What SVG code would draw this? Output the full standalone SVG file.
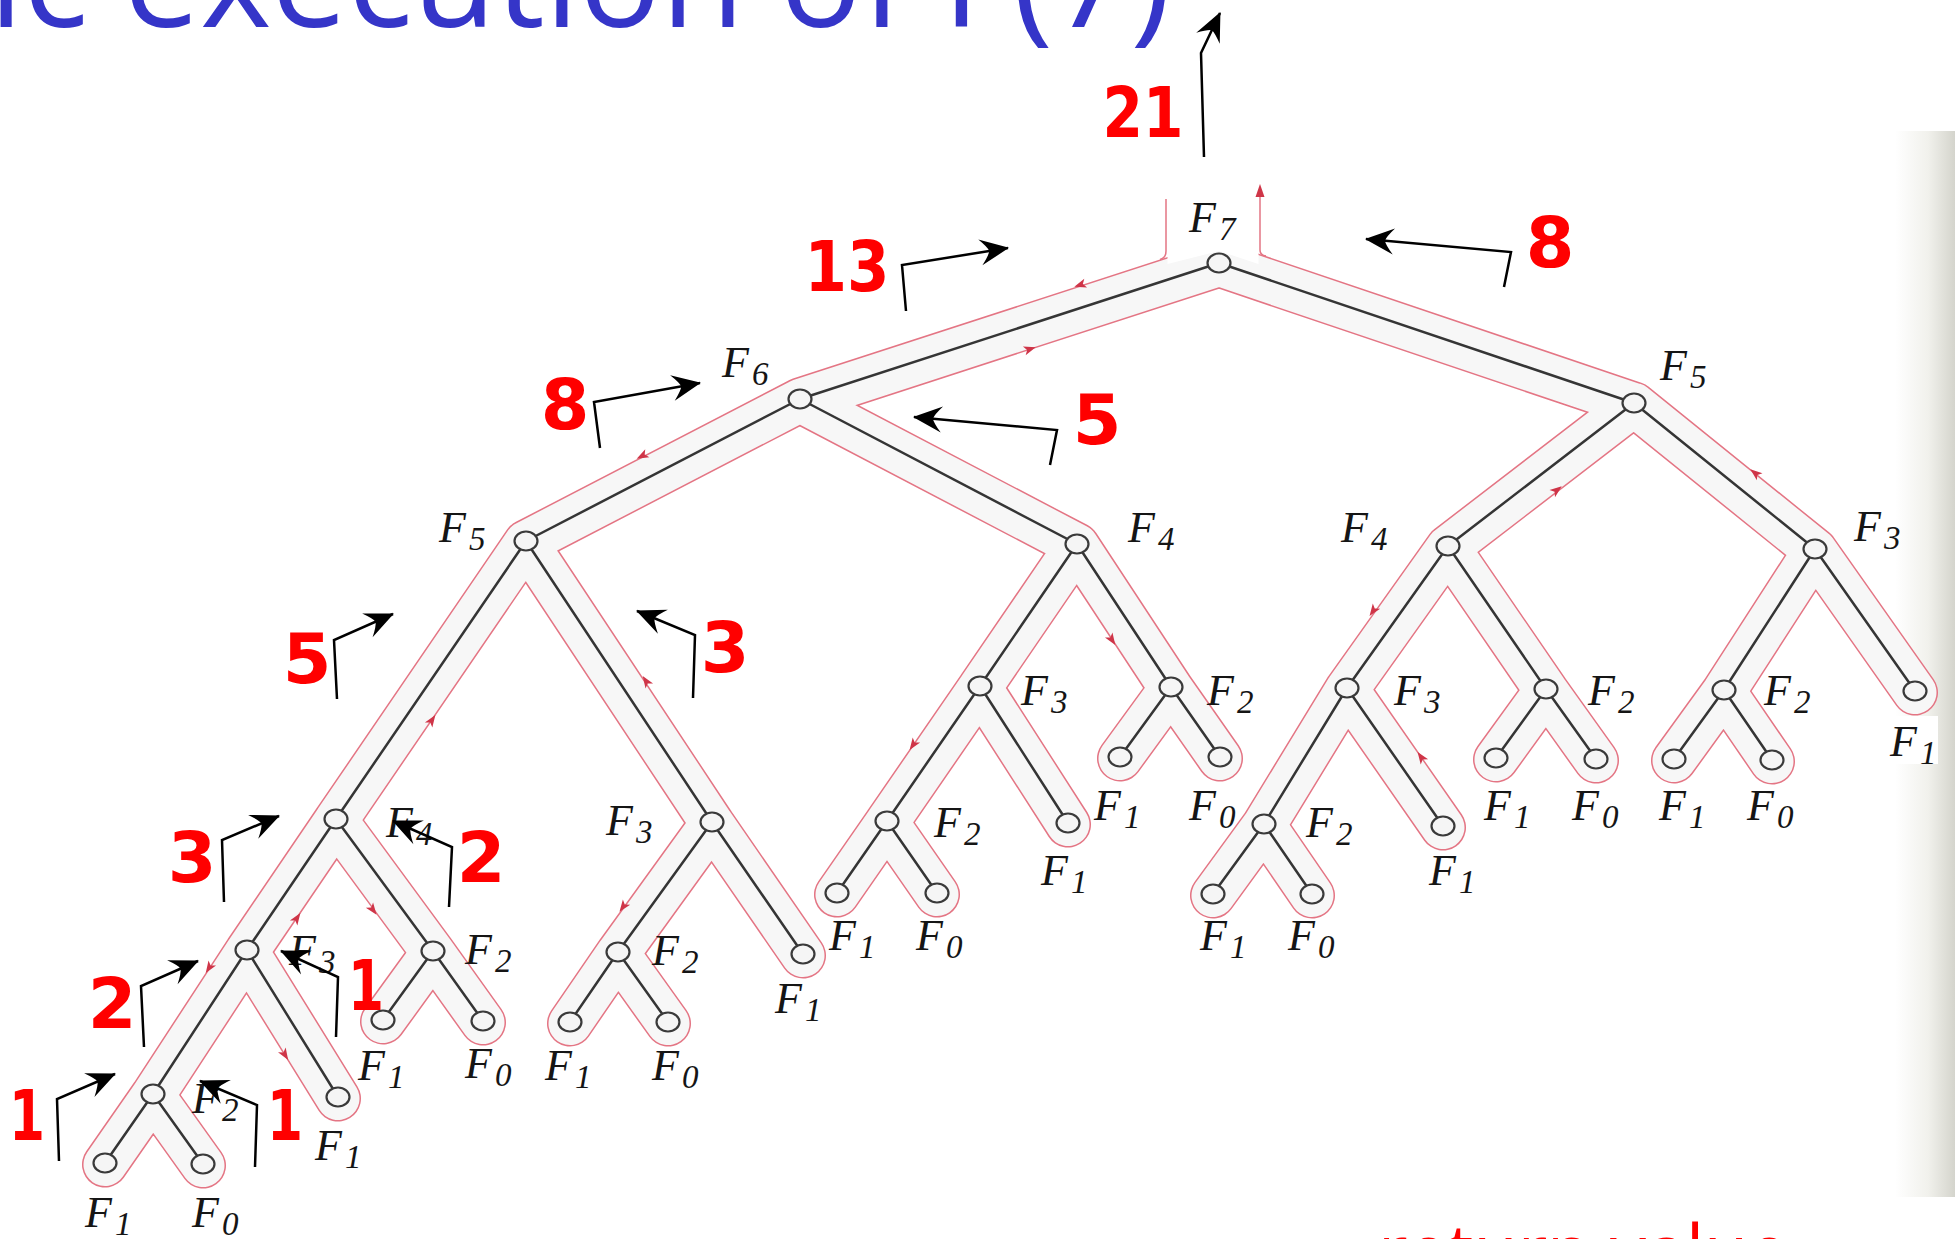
<svg xmlns="http://www.w3.org/2000/svg" xmlns:xlink="http://www.w3.org/1999/xlink" width="1955" height="1239" viewBox="0 0 1955 1239">
<defs>
<style>
.title{font-family:"Open Sans","DejaVu Sans",sans-serif;font-size:136px;fill:#3535c8}
.bottom{font-family:"Open Sans","DejaVu Sans",sans-serif;font-size:72px;fill:#ff0000}
.tubeRed{fill:none;stroke:#e47584;stroke-width:46;stroke-linecap:round;stroke-linejoin:round}
.tubeFill{fill:none;stroke:#f7f7f7;stroke-width:43;stroke-linecap:round;stroke-linejoin:round}
.redline{fill:none;stroke:#e47584;stroke-width:1.5}
.edge{stroke:#353535;stroke-width:2.5;stroke-linecap:round}
.node{fill:#f5f5f5;stroke:#3a3a3a;stroke-width:2.2}
.lbl{font-family:"Liberation Serif","Times New Roman",serif;font-style:italic;font-size:44px;fill:#151515}
.sub{font-size:33px}
.num{font-family:"DejaVu Sans","Liberation Sans",sans-serif;font-weight:bold;font-size:70px;fill:#ff0000;text-anchor:middle}
.arr{fill:none;stroke:#000;stroke-width:2.5;marker-end:url(#ah)}
.ra{fill:#cf3548}
</style>
<marker id="ah" viewBox="-30 -15 32 30" markerWidth="32" markerHeight="30" refX="0" refY="0" orient="auto" markerUnits="userSpaceOnUse">
<path d="M1,0 L-28,-13 Q-20,-4 -19,0 Q-20,4 -28,13 Z" fill="#000"/>
</marker>
<path id="ra" d="M6,0 L-6,-4.5 L-3,0 L-6,4.5 Z"/>
<path id="tree" d="M1219,263 L800,399 M1219,263 L1634,403 M800,399 L526,541 M800,399 L1077,544 M526,541 L336,819 M526,541 L712,822 M336,819 L247,950 M336,819 L433,951 M247,950 L153,1094 M247,950 L338,1097 M153,1094 L105,1163 M153,1094 L203,1164 M433,951 L383,1020 M433,951 L483,1021 M712,822 L618,952 M712,822 L803,954 M618,952 L570,1022 M618,952 L668,1022 M1077,544 L980,686 M1077,544 L1171,687 M980,686 L887,821 M980,686 L1068,823 M887,821 L837,893 M887,821 L937,893 M1171,687 L1120,757 M1171,687 L1220,757 M1634,403 L1448,546 M1634,403 L1815,549 M1448,546 L1347,688 M1448,546 L1546,689 M1347,688 L1264,824 M1347,688 L1443,826 M1264,824 L1213,894 M1264,824 L1312,894 M1546,689 L1496,758 M1546,689 L1596,759 M1815,549 L1724,690 M1815,549 L1915,691 M1724,690 L1674,759 M1724,690 L1772,760"/>
<linearGradient id="strip" x1="0" y1="0" x2="1" y2="0">
<stop offset="0" stop-color="#ffffff"/>
<stop offset="0.55" stop-color="#f1f1ec"/>
<stop offset="1" stop-color="#d4d4cc"/>
</linearGradient>
</defs>
<rect x="0" y="0" width="1955" height="1239" fill="#ffffff"/>
<rect x="1895" y="131" width="60" height="1066" fill="url(#strip)"/>

<text class="title" x="-11" y="27">ic execution of F(7)</text>
<text class="bottom" x="1378" y="1276">return value</text>

<g id="euler-tour">
<g transform="translate(0,1.5)">
<use xlink:href="#tree" class="tubeRed"/>
<use xlink:href="#tree" class="tubeFill"/>
</g>
<polygon points="1167.5,180 1258.5,180 1258.5,264 1219,251 1167.5,264" fill="#ffffff"/>
<path class="redline" d="M1166,199 V251 Q1166,258 1160,259.5"/>
<path class="redline" d="M1260,192 V250 Q1260,255 1266,256.1"/>
<polygon class="ra" points="1260,184 1255.5,197 1264.5,197"/>
<use xlink:href="#ra" class="ra" transform="translate(1080,285) rotate(162)"/>
<use xlink:href="#ra" class="ra" transform="translate(1030,349) rotate(-18)"/>
<use xlink:href="#ra" class="ra" transform="translate(642,456) rotate(152.6)"/>
<use xlink:href="#ra" class="ra" transform="translate(646,681) rotate(-123.5)"/>
<use xlink:href="#ra" class="ra" transform="translate(432,720) rotate(-55.6)"/>
<use xlink:href="#ra" class="ra" transform="translate(1112,640) rotate(56.7)"/>
<use xlink:href="#ra" class="ra" transform="translate(913,745) rotate(124.6)"/>
<use xlink:href="#ra" class="ra" transform="translate(1373,611) rotate(125.4)"/>
<use xlink:href="#ra" class="ra" transform="translate(1421,757) rotate(-124.8)"/>
<use xlink:href="#ra" class="ra" transform="translate(1557,490) rotate(-37.6)"/>
<use xlink:href="#ra" class="ra" transform="translate(1755,473) rotate(-141.1)"/>
<use xlink:href="#ra" class="ra" transform="translate(297,918) rotate(-55.8)"/>
<use xlink:href="#ra" class="ra" transform="translate(373,910) rotate(53.7)"/>
<use xlink:href="#ra" class="ra" transform="translate(209,968) rotate(123.1)"/>
<use xlink:href="#ra" class="ra" transform="translate(285,1055) rotate(58.2)"/>
<use xlink:href="#ra" class="ra" transform="translate(623,907) rotate(125.9)"/>
</g>

<g id="connectors">
<line class="edge" x1="1219" y1="263" x2="800" y2="399"/>
<line class="edge" x1="1219" y1="263" x2="1634" y2="403"/>
<line class="edge" x1="800" y1="399" x2="526" y2="541"/>
<line class="edge" x1="800" y1="399" x2="1077" y2="544"/>
<line class="edge" x1="526" y1="541" x2="336" y2="819"/>
<line class="edge" x1="526" y1="541" x2="712" y2="822"/>
<line class="edge" x1="336" y1="819" x2="247" y2="950"/>
<line class="edge" x1="336" y1="819" x2="433" y2="951"/>
<line class="edge" x1="247" y1="950" x2="153" y2="1094"/>
<line class="edge" x1="247" y1="950" x2="338" y2="1097"/>
<line class="edge" x1="153" y1="1094" x2="105" y2="1163"/>
<line class="edge" x1="153" y1="1094" x2="203" y2="1164"/>
<line class="edge" x1="433" y1="951" x2="383" y2="1020"/>
<line class="edge" x1="433" y1="951" x2="483" y2="1021"/>
<line class="edge" x1="712" y1="822" x2="618" y2="952"/>
<line class="edge" x1="712" y1="822" x2="803" y2="954"/>
<line class="edge" x1="618" y1="952" x2="570" y2="1022"/>
<line class="edge" x1="618" y1="952" x2="668" y2="1022"/>
<line class="edge" x1="1077" y1="544" x2="980" y2="686"/>
<line class="edge" x1="1077" y1="544" x2="1171" y2="687"/>
<line class="edge" x1="980" y1="686" x2="887" y2="821"/>
<line class="edge" x1="980" y1="686" x2="1068" y2="823"/>
<line class="edge" x1="887" y1="821" x2="837" y2="893"/>
<line class="edge" x1="887" y1="821" x2="937" y2="893"/>
<line class="edge" x1="1171" y1="687" x2="1120" y2="757"/>
<line class="edge" x1="1171" y1="687" x2="1220" y2="757"/>
<line class="edge" x1="1634" y1="403" x2="1448" y2="546"/>
<line class="edge" x1="1634" y1="403" x2="1815" y2="549"/>
<line class="edge" x1="1448" y1="546" x2="1347" y2="688"/>
<line class="edge" x1="1448" y1="546" x2="1546" y2="689"/>
<line class="edge" x1="1347" y1="688" x2="1264" y2="824"/>
<line class="edge" x1="1347" y1="688" x2="1443" y2="826"/>
<line class="edge" x1="1264" y1="824" x2="1213" y2="894"/>
<line class="edge" x1="1264" y1="824" x2="1312" y2="894"/>
<line class="edge" x1="1546" y1="689" x2="1496" y2="758"/>
<line class="edge" x1="1546" y1="689" x2="1596" y2="759"/>
<line class="edge" x1="1815" y1="549" x2="1724" y2="690"/>
<line class="edge" x1="1815" y1="549" x2="1915" y2="691"/>
<line class="edge" x1="1724" y1="690" x2="1674" y2="759"/>
<line class="edge" x1="1724" y1="690" x2="1772" y2="760"/>
</g>

<g id="nodes">
<g id="n0"><ellipse class="node" cx="1219" cy="263" rx="11.5" ry="9.5"/><text class="lbl" x="1189" y="232">F<tspan class="sub" dx="3" dy="8">7</tspan></text></g>
<g id="n1"><ellipse class="node" cx="800" cy="399" rx="11.5" ry="9.5"/><text class="lbl" x="722" y="377">F<tspan class="sub" dx="3" dy="8">6</tspan></text></g>
<g id="n2"><ellipse class="node" cx="526" cy="541" rx="11.5" ry="9.5"/><text class="lbl" x="439" y="542">F<tspan class="sub" dx="3" dy="8">5</tspan></text></g>
<g id="n3"><ellipse class="node" cx="336" cy="819" rx="11.5" ry="9.5"/><text class="lbl" x="386" y="837">F<tspan class="sub" dx="3" dy="8">4</tspan></text></g>
<g id="n4"><ellipse class="node" cx="247" cy="950" rx="11.5" ry="9.5"/><text class="lbl" x="289" y="965">F<tspan class="sub" dx="3" dy="8">3</tspan></text></g>
<g id="n5"><ellipse class="node" cx="153" cy="1094" rx="11.5" ry="9.5"/><text class="lbl" x="192" y="1113">F<tspan class="sub" dx="3" dy="8">2</tspan></text></g>
<g id="n6"><ellipse class="node" cx="105" cy="1163" rx="11.5" ry="9.5"/><text class="lbl" x="85" y="1227">F<tspan class="sub" dx="3" dy="8">1</tspan></text></g>
<g id="n7"><ellipse class="node" cx="203" cy="1164" rx="11.5" ry="9.5"/><text class="lbl" x="192" y="1227">F<tspan class="sub" dx="3" dy="8">0</tspan></text></g>
<g id="n8"><ellipse class="node" cx="338" cy="1097" rx="11.5" ry="9.5"/><text class="lbl" x="315" y="1160">F<tspan class="sub" dx="3" dy="8">1</tspan></text></g>
<g id="n9"><ellipse class="node" cx="433" cy="951" rx="11.5" ry="9.5"/><text class="lbl" x="465" y="964">F<tspan class="sub" dx="3" dy="8">2</tspan></text></g>
<g id="n10"><ellipse class="node" cx="383" cy="1020" rx="11.5" ry="9.5"/><text class="lbl" x="358" y="1080">F<tspan class="sub" dx="3" dy="8">1</tspan></text></g>
<g id="n11"><ellipse class="node" cx="483" cy="1021" rx="11.5" ry="9.5"/><text class="lbl" x="465" y="1078">F<tspan class="sub" dx="3" dy="8">0</tspan></text></g>
<g id="n12"><ellipse class="node" cx="712" cy="822" rx="11.5" ry="9.5"/><text class="lbl" x="606" y="835">F<tspan class="sub" dx="3" dy="8">3</tspan></text></g>
<g id="n13"><ellipse class="node" cx="618" cy="952" rx="11.5" ry="9.5"/><text class="lbl" x="652" y="965">F<tspan class="sub" dx="3" dy="8">2</tspan></text></g>
<g id="n14"><ellipse class="node" cx="570" cy="1022" rx="11.5" ry="9.5"/><text class="lbl" x="545" y="1080">F<tspan class="sub" dx="3" dy="8">1</tspan></text></g>
<g id="n15"><ellipse class="node" cx="668" cy="1022" rx="11.5" ry="9.5"/><text class="lbl" x="652" y="1080">F<tspan class="sub" dx="3" dy="8">0</tspan></text></g>
<g id="n16"><ellipse class="node" cx="803" cy="954" rx="11.5" ry="9.5"/><text class="lbl" x="775" y="1013">F<tspan class="sub" dx="3" dy="8">1</tspan></text></g>
<g id="n17"><ellipse class="node" cx="1077" cy="544" rx="11.5" ry="9.5"/><text class="lbl" x="1128" y="542">F<tspan class="sub" dx="3" dy="8">4</tspan></text></g>
<g id="n18"><ellipse class="node" cx="980" cy="686" rx="11.5" ry="9.5"/><text class="lbl" x="1021" y="705">F<tspan class="sub" dx="3" dy="8">3</tspan></text></g>
<g id="n19"><ellipse class="node" cx="887" cy="821" rx="11.5" ry="9.5"/><text class="lbl" x="934" y="837">F<tspan class="sub" dx="3" dy="8">2</tspan></text></g>
<g id="n20"><ellipse class="node" cx="837" cy="893" rx="11.5" ry="9.5"/><text class="lbl" x="829" y="950">F<tspan class="sub" dx="3" dy="8">1</tspan></text></g>
<g id="n21"><ellipse class="node" cx="937" cy="893" rx="11.5" ry="9.5"/><text class="lbl" x="916" y="950">F<tspan class="sub" dx="3" dy="8">0</tspan></text></g>
<g id="n22"><ellipse class="node" cx="1068" cy="823" rx="11.5" ry="9.5"/><text class="lbl" x="1041" y="885">F<tspan class="sub" dx="3" dy="8">1</tspan></text></g>
<g id="n23"><ellipse class="node" cx="1171" cy="687" rx="11.5" ry="9.5"/><text class="lbl" x="1207" y="705">F<tspan class="sub" dx="3" dy="8">2</tspan></text></g>
<g id="n24"><ellipse class="node" cx="1120" cy="757" rx="11.5" ry="9.5"/><text class="lbl" x="1094" y="820">F<tspan class="sub" dx="3" dy="8">1</tspan></text></g>
<g id="n25"><ellipse class="node" cx="1220" cy="757" rx="11.5" ry="9.5"/><text class="lbl" x="1189" y="820">F<tspan class="sub" dx="3" dy="8">0</tspan></text></g>
<g id="n26"><ellipse class="node" cx="1634" cy="403" rx="11.5" ry="9.5"/><text class="lbl" x="1660" y="380">F<tspan class="sub" dx="3" dy="8">5</tspan></text></g>
<g id="n27"><ellipse class="node" cx="1448" cy="546" rx="11.5" ry="9.5"/><text class="lbl" x="1341" y="542">F<tspan class="sub" dx="3" dy="8">4</tspan></text></g>
<g id="n28"><ellipse class="node" cx="1347" cy="688" rx="11.5" ry="9.5"/><text class="lbl" x="1394" y="705">F<tspan class="sub" dx="3" dy="8">3</tspan></text></g>
<g id="n29"><ellipse class="node" cx="1264" cy="824" rx="11.5" ry="9.5"/><text class="lbl" x="1306" y="837">F<tspan class="sub" dx="3" dy="8">2</tspan></text></g>
<g id="n30"><ellipse class="node" cx="1213" cy="894" rx="11.5" ry="9.5"/><text class="lbl" x="1200" y="950">F<tspan class="sub" dx="3" dy="8">1</tspan></text></g>
<g id="n31"><ellipse class="node" cx="1312" cy="894" rx="11.5" ry="9.5"/><text class="lbl" x="1288" y="950">F<tspan class="sub" dx="3" dy="8">0</tspan></text></g>
<g id="n32"><ellipse class="node" cx="1443" cy="826" rx="11.5" ry="9.5"/><text class="lbl" x="1429" y="885">F<tspan class="sub" dx="3" dy="8">1</tspan></text></g>
<g id="n33"><ellipse class="node" cx="1546" cy="689" rx="11.5" ry="9.5"/><text class="lbl" x="1588" y="705">F<tspan class="sub" dx="3" dy="8">2</tspan></text></g>
<g id="n34"><ellipse class="node" cx="1496" cy="758" rx="11.5" ry="9.5"/><text class="lbl" x="1484" y="820">F<tspan class="sub" dx="3" dy="8">1</tspan></text></g>
<g id="n35"><ellipse class="node" cx="1596" cy="759" rx="11.5" ry="9.5"/><text class="lbl" x="1572" y="820">F<tspan class="sub" dx="3" dy="8">0</tspan></text></g>
<g id="n36"><ellipse class="node" cx="1815" cy="549" rx="11.5" ry="9.5"/><text class="lbl" x="1854" y="541">F<tspan class="sub" dx="3" dy="8">3</tspan></text></g>
<g id="n37"><ellipse class="node" cx="1724" cy="690" rx="11.5" ry="9.5"/><text class="lbl" x="1764" y="705">F<tspan class="sub" dx="3" dy="8">2</tspan></text></g>
<g id="n38"><ellipse class="node" cx="1674" cy="759" rx="11.5" ry="9.5"/><text class="lbl" x="1659" y="820">F<tspan class="sub" dx="3" dy="8">1</tspan></text></g>
<g id="n39"><ellipse class="node" cx="1772" cy="760" rx="11.5" ry="9.5"/><text class="lbl" x="1747" y="820">F<tspan class="sub" dx="3" dy="8">0</tspan></text></g>
<g id="n40"><ellipse class="node" cx="1915" cy="691" rx="11.5" ry="9.5"/><rect x="1884" y="716" width="54" height="48" fill="#ffffff"/><text class="lbl" x="1890" y="756">F<tspan class="sub" dx="3" dy="8">1</tspan></text></g>
</g>

<g id="return-values">
<path class="arr" d="M1204,157 L1201,53 L1220,13"/>
<text class="num" x="1143" y="137" textLength="81" lengthAdjust="spacingAndGlyphs">21</text>
<path class="arr" d="M906,311 L902,265 L1008,248"/>
<text class="num" x="847" y="291" textLength="85" lengthAdjust="spacingAndGlyphs">13</text>
<path class="arr" d="M1504,287 L1511,252 L1366,239"/>
<text class="num" x="1550" y="267">8</text>
<path class="arr" d="M600,448 L594,402 L700,383"/>
<text class="num" x="565" y="429">8</text>
<path class="arr" d="M1050,465 L1057,430 L914,417"/>
<text class="num" x="1097" y="444">5</text>
<path class="arr" d="M337,699 L334,640 L393,614"/>
<text class="num" x="307" y="683">5</text>
<path class="arr" d="M693,698 L695,635 L637,611"/>
<text class="num" x="725" y="672">3</text>
<path class="arr" d="M224,902 L222,840 L279,816"/>
<text class="num" x="192" y="882">3</text>
<path class="arr" d="M449,907 L452,847 L393,821"/>
<text class="num" x="481" y="882">2</text>
<path class="arr" d="M144,1047 L141,986 L198,961"/>
<text class="num" x="112" y="1028">2</text>
<path class="arr" d="M336,1037 L338,977 L281,951"/>
<text class="num" x="366" y="1010" textLength="36" lengthAdjust="spacingAndGlyphs">1</text>
<path class="arr" d="M59,1161 L57,1099 L115,1074"/>
<text class="num" x="27" y="1140" textLength="36" lengthAdjust="spacingAndGlyphs">1</text>
<path class="arr" d="M255,1167 L257,1105 L200,1081"/>
<text class="num" x="285" y="1140" textLength="36" lengthAdjust="spacingAndGlyphs">1</text>
</g>
</svg>
